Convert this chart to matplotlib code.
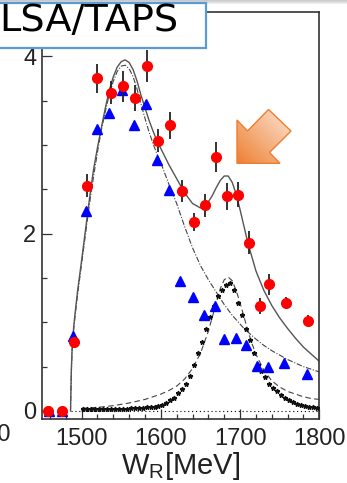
import numpy as np
import matplotlib
matplotlib.use("Agg")
import matplotlib.pyplot as plt
from matplotlib.patches import Polygon, Rectangle
from matplotlib.ticker import MultipleLocator

# CBELSA/TAPS eta photoproduction: fitted yields vs W_R
red_x = [1457, 1475, 1490, 1507, 1520, 1537, 1552, 1568, 1582, 1597, 1612,
         1627, 1642, 1656, 1670, 1683, 1697, 1711, 1725, 1737, 1758, 1786]
red_y = [0.0, 0.0, 0.78, 2.54, 3.75, 3.59, 3.66, 3.53, 3.89, 3.05, 3.22,
         2.48, 2.13, 2.32, 2.86, 2.42, 2.44, 1.90, 1.18, 1.43, 1.22, 1.02]
red_err = [0.02, 0.02, 0.06, 0.13, 0.16, 0.13, 0.17, 0.15, 0.18, 0.13, 0.15,
           0.12, 0.10, 0.13, 0.17, 0.15, 0.14, 0.13, 0.09, 0.12, 0.07, 0.06]

blue_x = [1459, 1475, 1489, 1505, 1519, 1535, 1551, 1566, 1581, 1595, 1610,
          1624, 1640, 1654, 1668, 1680, 1695, 1708, 1721, 1735, 1756, 1784]
blue_y = [0.0, 0.0, 0.84, 2.25, 3.18, 3.36, 3.62, 3.22, 3.46, 2.83, 2.49,
          1.47, 1.28, 1.08, 1.18, 0.81, 0.82, 0.74, 0.51, 0.50, 0.54, 0.42]

star_x = [1502, 1507, 1512, 1517, 1522, 1527, 1532, 1537, 1542, 1547, 1552,
          1557, 1562, 1567, 1572, 1577, 1582, 1587, 1592, 1597, 1602, 1607,
          1612, 1617, 1622, 1627, 1632, 1637, 1642, 1647, 1652, 1657, 1662,
          1667, 1672, 1677, 1682, 1687, 1692, 1697, 1702, 1707, 1712, 1717,
          1722, 1727, 1732, 1737, 1742, 1747, 1752, 1757, 1762, 1767, 1772,
          1777, 1782, 1787, 1792, 1797]
star_y = [0.02, 0.02, 0.02, 0.02, 0.02, 0.02, 0.02, 0.02, 0.02, 0.02, 0.025,
          0.025, 0.03, 0.03, 0.03, 0.035, 0.04, 0.045, 0.05, 0.06, 0.07, 0.09,
          0.12, 0.15, 0.20, 0.25, 0.30, 0.40, 0.52, 0.65, 0.78, 0.92, 1.06,
          1.18, 1.30, 1.36, 1.42, 1.44, 1.36, 1.22, 1.08, 0.93, 0.80, 0.65,
          0.52, 0.45, 0.38, 0.30, 0.26, 0.22, 0.18, 0.15, 0.12, 0.10, 0.08,
          0.07, 0.06, 0.05, 0.04, 0.03]

total_x = [1486, 1487, 1488, 1490, 1492, 1495, 1500, 1505, 1510, 1515, 1520,
           1525, 1530, 1535, 1540, 1545, 1550, 1555, 1560, 1565, 1570, 1575,
           1580, 1585, 1590, 1595, 1600, 1610, 1620, 1630, 1640, 1650, 1660,
           1665, 1670, 1675, 1680, 1685, 1690, 1695, 1700, 1705, 1710, 1720,
           1730, 1740, 1750, 1760, 1770, 1780, 1790, 1800]
total_y = [0.0, 0.45, 0.70, 0.95, 1.12, 1.36, 1.70, 2.05, 2.40, 2.72, 2.97,
           3.20, 3.42, 3.62, 3.77, 3.88, 3.94, 3.96, 3.93, 3.85, 3.72, 3.56,
           3.42, 3.28, 3.16, 3.05, 2.96, 2.78, 2.62, 2.46, 2.34, 2.29, 2.36,
           2.43, 2.52, 2.60, 2.65, 2.65, 2.58, 2.45, 2.27, 2.08, 1.89, 1.58,
           1.36, 1.19, 1.05, 0.93, 0.82, 0.72, 0.64, 0.56]

bg_x = total_x
bg_y = [0.0, 0.43, 0.68, 0.92, 1.09, 1.32, 1.66, 2.00, 2.34, 2.64, 2.92,
        3.17, 3.38, 3.57, 3.72, 3.83, 3.89, 3.90, 3.86, 3.77, 3.63, 3.46,
        3.30, 3.15, 3.02, 2.90, 2.80, 2.56, 2.34, 2.08, 1.84, 1.64, 1.48,
        1.41, 1.34, 1.27, 1.20, 1.14, 1.08, 1.03, 0.98, 0.93, 0.89, 0.81,
        0.74, 0.68, 0.63, 0.58, 0.54, 0.50, 0.47, 0.44]

bw_x = [1500, 1520, 1540, 1560, 1580, 1590, 1600, 1610, 1620, 1630, 1640,
        1650, 1660, 1665, 1670, 1675, 1680, 1685, 1690, 1695, 1700, 1705,
        1710, 1715, 1720, 1730, 1740, 1750, 1760, 1770, 1780, 1790, 1800]
bw_y = [0.03, 0.04, 0.06, 0.09, 0.13, 0.16, 0.19, 0.23, 0.28, 0.36, 0.48,
        0.65, 0.90, 1.06, 1.22, 1.38, 1.48, 1.51, 1.47, 1.36, 1.22, 1.06,
        0.90, 0.76, 0.64, 0.46, 0.34, 0.27, 0.22, 0.19, 0.16, 0.14, 0.13]

x_ticks = [1500, 1600, 1700, 1800]
y_ticks = [0, 2, 4]

W, H = 347, 483
fig = plt.figure(figsize=(W / 100, H / 100), dpi=100)
fig.patch.set_facecolor("white")

ax = fig.add_axes([42 / W, 1 - 419.3 / H, (319.3 - 42) / W, (419.3 - 12) / H])
ax.set_xlim(1450, 1800)
ax.set_ylim(-0.094, 4.5)

ax.plot([1486, 1800], [0, 0], color="black", lw=0.8, ls=(0, (1, 2.5)), zorder=1)
ax.plot(bg_x, bg_y, color="#444444", lw=0.8, ls=(0, (5, 1.5, 1, 1.5)), zorder=2)
ax.plot(total_x, total_y, color="#555555", lw=1.0, zorder=2)
ax.plot(bw_x, bw_y, color="#444444", lw=0.8, ls=(0, (5, 3)), zorder=2)
ax.plot(star_x, star_y, ls="none", marker="*", ms=3.4, color="#111111",
        zorder=3)
ax.plot(blue_x, blue_y, ls="none", marker="^", ms=6.5, color="#0000ff",
        mec="#0000ff", zorder=4)
ax.errorbar(red_x, red_y, yerr=red_err, fmt="none", ecolor="#222222",
            elinewidth=1.3, capsize=0, zorder=5)
ax.plot(red_x, red_y, ls="none", marker="o", ms=7, color="#ff0000",
        mec="#ff0000", zorder=6)

tick_font = ["Liberation Sans"]
ax.set_xticks(x_ticks)
ax.set_yticks(y_ticks)
ax.xaxis.set_minor_locator(MultipleLocator(20))
ax.yaxis.set_minor_locator(MultipleLocator(0.5))
ax.tick_params(which="both", direction="in", top=False, right=False,
               color="#333333", width=0.9)
ax.tick_params(which="major", length=7)
ax.tick_params(which="minor", length=3.5)
ax.tick_params(axis="x", pad=6)
ax.tick_params(axis="y", pad=4)
for lab in ax.get_xticklabels() + ax.get_yticklabels():
    lab.set_family(tick_font)
    lab.set_fontsize(17)
    lab.set_color("#222222")
for sp in ax.spines.values():
    sp.set_linewidth(1.2)
    sp.set_color("#333333")

ax.set_xlabel(r"W$_\mathregular{R}$[MeV]", family=tick_font, fontsize=21,
              color="#222222", labelpad=0)
fig.text(11 / W, 1 - 435 / H, "1400", family=tick_font, fontsize=17,
         color="#222222", ha="right", va="center")

# overlay in pixel coordinates for the slide decorations
ov = fig.add_axes([0, 0, 1, 1], zorder=10)
ov.set_xlim(0, W)
ov.set_ylim(H, 0)
ov.axis("off")
ov.patch.set_alpha(0)

strip = np.linspace(0.78, 0.95, 20)[:, None] * np.ones((1, 2))
ov.imshow(np.dstack([strip] * 3), extent=(0, W, 4, 0), aspect="auto")

ov.add_patch(Rectangle((-3, 3), 209.5, 45, facecolor="white",
                       edgecolor="#5b9bd5", lw=1.6))
ov.text(-1, 31, "LSA/TAPS", family="DejaVu Sans", fontsize=27.5,
        color="black", ha="left", va="baseline")

arrow_pts = [(237, 120), (247.5, 131), (268.5, 109.5), (291, 131),
             (269.5, 152.5), (280, 163.3), (237, 163.3)]
x0, x1, y0, y1 = 237, 291, 109.5, 163.3
gx, gy = np.meshgrid(np.linspace(0, 1, 60), np.linspace(0, 1, 60))
t = (gx + (1 - gy)) / 2
dark = np.array([238, 128, 52]) / 255
light = np.array([252, 230, 212]) / 255
grad = dark[None, None, :] + t[:, :, None] * (light - dark)[None, None, :]
im = ov.imshow(grad, extent=(x0, x1, y1, y0), aspect="auto", zorder=11)
arrow = Polygon(arrow_pts, closed=True, facecolor="none",
                edgecolor="#ed7d31", lw=1.0, zorder=12)
ov.add_patch(arrow)
im.set_clip_path(arrow)

fig.savefig("out.png", dpi=100)
